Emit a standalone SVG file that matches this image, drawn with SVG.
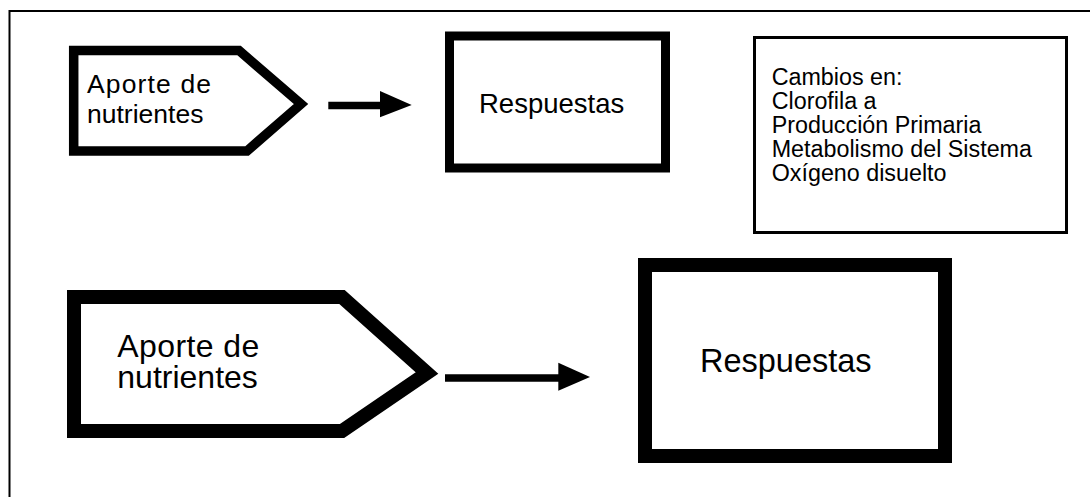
<svg xmlns="http://www.w3.org/2000/svg" width="1090" height="497" viewBox="0 0 1090 497">
  <defs>
    <style>
      .frame { fill: none; stroke: #000; stroke-width: 2; }
      .shape { fill: #fff; stroke: #000; stroke-linejoin: miter; stroke-miterlimit: 10; }
      .thin { fill: #fff; stroke: #000; stroke-width: 3; }
      .lbl { font-family: "Liberation Sans", Arial, Helvetica, sans-serif; fill: #000; }
      .conn { fill: none; stroke: #000; }
      .head { fill: #000; stroke: none; }
    </style>
  </defs>
  <rect width="1090" height="497" fill="#fff"/>

  <!-- page frame (top and left edges only) -->
  <path class="frame" d="M9.5,497 V11 H1090"/>

  <!-- upper row -->
  <g id="aporte-1">
    <path class="shape" stroke-width="9.5" d="M73.7,50.5 H239 L301,104 L247,151 H73.7 Z"/>
    <text class="lbl" font-size="26.5" x="87" y="92.7" textLength="124">Aporte de</text>
    <text class="lbl" font-size="26.5" x="87" y="123.3">nutrientes</text>
  </g>

  <g id="respuestas-1">
    <rect class="shape" stroke-width="9" x="449.5" y="36" width="216" height="132"/>
    <text class="lbl" font-size="27.5" x="479" y="113">Respuestas</text>
  </g>

  <g id="cambios">
    <rect class="thin" x="754.5" y="37.5" width="312" height="195"/>
    <text class="lbl" font-size="23.3">
      <tspan x="771.7" y="85">Cambios en:</tspan>
      <tspan x="771.7" y="109">Clorofila a</tspan>
      <tspan x="771.7" y="133">Producción Primaria</tspan>
      <tspan x="771.7" y="157">Metabolismo del Sistema</tspan>
      <tspan x="771.7" y="181">Oxígeno disuelto</tspan>
    </text>
  </g>

  <!-- lower row -->
  <g id="aporte-2">
    <path class="shape" stroke-width="14" d="M74,297 H342 L427,373 L342,431 H74 Z"/>
    <text class="lbl" font-size="32" x="117.3" y="357.3" textLength="142">Aporte de</text>
    <text class="lbl" font-size="32" x="117.3" y="388.3">nutrientes</text>
  </g>

  <g id="respuestas-2">
    <rect class="shape" stroke-width="14" x="645" y="265" width="300" height="191"/>
    <text class="lbl" font-size="32.5" x="700" y="371.7">Respuestas</text>
  </g>

  <!-- connectors -->
  <g id="connectors">
    <line class="conn" stroke-width="7.6" x1="328.3" y1="105.5" x2="381" y2="105.5"/>
    <polygon class="head" points="380,91 411.7,105 380,117.3"/>
    <line class="conn" stroke-width="7.4" x1="445" y1="378" x2="559" y2="378"/>
    <polygon class="head" points="558.3,362.7 590,377 558.3,390.7"/>
  </g>
</svg>
